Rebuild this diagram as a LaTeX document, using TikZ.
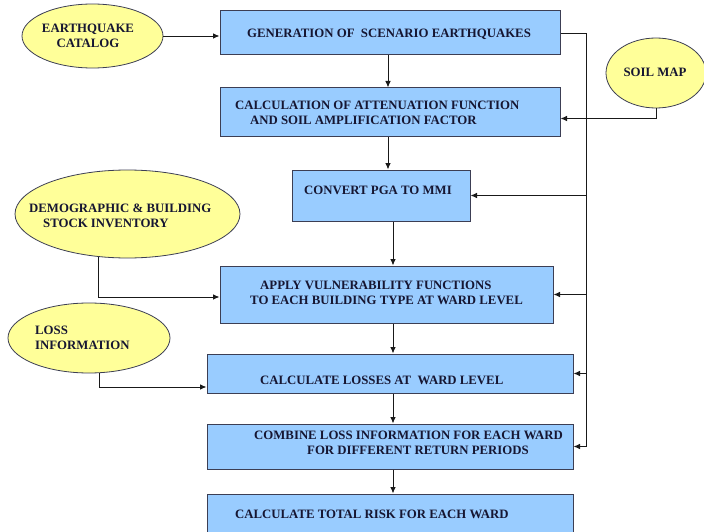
\documentclass[tikz,border=0pt]{standalone}
\usepackage{fontspec}
\setmainfont{Liberation Serif}
\usetikzlibrary{shapes.geometric,arrows.meta}
\definecolor{boxblue}{RGB}{153,204,255}
\definecolor{inyellow}{RGB}{255,255,153}
\definecolor{inktext}{RGB}{22,22,50}
\definecolor{rim}{RGB}{60,62,84}
\tikzset{
  stepbox/.style={rectangle, draw=rim, line width=1pt, fill=boxblue, inner sep=0pt},
  source/.style={ellipse, draw=rim, line width=0.8pt, fill=inyellow, inner sep=0pt},
  lbl/.style={text=inktext, font=\fontsize{12.8}{14.5}\selectfont\bfseries, inner sep=0pt, align=left},
  flow/.style={-{Latex[length=6.5pt,width=5.5pt]}, line width=0.9pt, draw=black!90}
}
\begin{document}
\begin{tikzpicture}[x=1pt, y=-1pt]
\useasboundingbox (0,0) rectangle (704,532);
\fill[white] (0,0) rectangle (704,532);
\clip (0,0) rectangle (704,532);
% process boxes
\node[stepbox, minimum width=340, minimum height=44] (gen) at (390,33) {};
\node[stepbox, minimum width=340, minimum height=49] (calc) at (390,112.5) {};
\node[stepbox, minimum width=178, minimum height=51] (mmi) at (381,195.5) {};
\node[stepbox, minimum width=333, minimum height=57] (vuln) at (386.5,294.5) {};
\node[stepbox, minimum width=366, minimum height=39] (loss) at (390,373.5) {};
\node[stepbox, minimum width=366, minimum height=45] (comb) at (390,446.5) {};
\node[stepbox, minimum width=366, minimum height=40] (total) at (390,514) {};
% input ellipses
\node[source, minimum width=141, minimum height=64] (catalog) at (92.5,36) {};
\node[source, minimum width=100, minimum height=70] (soil) at (656,73) {};
\node[source, minimum width=225, minimum height=88] (demo) at (127.5,214) {};
\node[source, minimum width=162, minimum height=70] (lossinfo) at (89,338) {};
% texts
\node[lbl, align=center] (gen-t) at (389,34) {GENERATION OF \ SCENARIO EARTHQUAKES};
\node[lbl, anchor=west] (calc-t) at (235,113) {CALCULATION OF ATTENUATION FUNCTION\\\hspace*{15pt}AND SOIL AMPLIFICATION FACTOR};
\node[lbl] (mmi-t) at (378,190) {CONVERT PGA TO MMI};
\node[lbl, anchor=west] (vuln-t) at (250,293) {\hspace*{10pt}APPLY VULNERABILITY FUNCTIONS\\TO EACH BUILDING TYPE AT WARD LEVEL};
\node[lbl, anchor=west] (loss-t) at (260,380) {CALCULATE LOSSES AT \ WARD LEVEL};
\node[lbl, anchor=west] (comb-t) at (254,443) {COMBINE LOSS INFORMATION FOR EACH WARD\\\hspace*{53pt}FOR DIFFERENT RETURN PERIODS};
\node[lbl, anchor=west] (total-t) at (235,514) {CALCULATE TOTAL RISK FOR EACH WARD};
\node[lbl, align=center] (catalog-t) at (88,36) {EARTHQUAKE\\CATALOG};
\node[lbl] (soil-t) at (655,72) {SOIL MAP};
\node[lbl, anchor=west] (demo-t) at (29,216) {DEMOGRAPHIC \& BUILDING\\\hspace*{14pt}STOCK INVENTORY};
\node[lbl, anchor=west] (lossinfo-t) at (35,338) {LOSS\\INFORMATION};
% connectors
\coordinate (axisA) at (388,0);
\coordinate (axisB) at (393,0);
\coordinate (bus) at (586,0);
\draw[flow] (catalog.east) -- (catalog.east -| gen.west);
\draw[flow] (axisA |- gen.south) -- (axisA |- calc.north);
\draw[flow] (axisA |- calc.south) -- (axisA |- mmi.north);
\draw[flow] (axisB |- mmi.south) -- (axisB |- vuln.north);
\draw[flow] (axisB |- vuln.south) -- (axisB |- loss.north);
\draw[flow] (axisB |- loss.south) -- (axisB |- comb.north);
\draw[flow] (axisB |- comb.south) -- (axisB |- total.north);
\draw[flow] (soil.south) |- ([yshift=-6pt]calc.east);
\draw[line width=0.9pt, draw=black!90] (gen.east) -| (bus |- comb.east);
\foreach \n in {mmi,vuln,loss,comb}
  \draw[flow] (bus |- \n.east) -- (\n.east);
\draw[flow] (demo.236) |- ([yshift=-2.5pt]vuln.west);
\draw[flow] ([xshift=10pt]lossinfo.south) |- ([yshift=-13.5pt]loss.west);
\end{tikzpicture}
\end{document}
